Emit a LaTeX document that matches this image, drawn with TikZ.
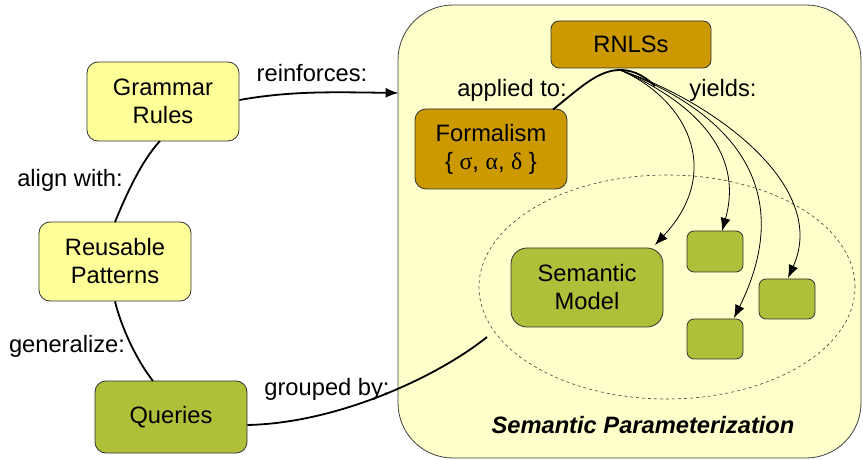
\documentclass[tikz,border=0pt]{standalone}
\usepackage{fontspec}
\setmainfont{Liberation Sans}
\newfontfamily\grk{Liberation Serif}
\usetikzlibrary{arrows.meta,shapes.geometric}
\definecolor{lyellow}{HTML}{FFFF99}
\definecolor{cont}{HTML}{FFFFCC}
\definecolor{gold}{HTML}{CC9900}
\definecolor{olive}{HTML}{B0BF3A}
\tikzset{
  box/.style={draw=black!80, line width=0.8bp, rounded corners=11bp, align=center, inner sep=0pt,
    font=\fontsize{23.7bp}{28bp}\selectfont},
  ybox/.style={box, fill=lyellow},
  gbox/.style={box, fill=gold},
  obox/.style={box, fill=olive},
  lbl/.style={anchor=base, inner sep=0pt, font=\fontsize{23.7bp}{28bp}\selectfont},
  thick link/.style={line width=1.8bp},
  yarrow/.style={line width=0.8bp, -{Latex[length=13bp,width=10bp]}},
}
\begin{document}
\begin{tikzpicture}[x=1bp,y=-1bp]
\useasboundingbox (0,0) rectangle (863,460);
% container
\node[draw=black!75, line width=0.8bp, fill=cont, rounded corners=55bp, minimum width=463bp, minimum height=453bp, inner sep=0pt] (cont) at (629.5,231.5) {};
% dashed ellipse
\node[ellipse, draw=black!75, dashed, line width=0.6bp, minimum width=376bp, minimum height=224bp, inner sep=0pt] (ell) at (667,287) {};
% nodes
\node[ybox, minimum width=152bp, minimum height=79bp] (gr) at (163,101.5) {Grammar\\Rules};
\node[ybox, minimum width=152bp, minimum height=79bp] (rp) at (115,261.5) {Reusable\\Patterns};
\node[obox, minimum width=152bp, minimum height=72bp] (qu) at (171,417) {Queries};
\node[gbox, minimum width=160bp, minimum height=47bp, rounded corners=8bp] (rn) at (631,44.5) {RNLSs};
\node[gbox, minimum width=152bp, minimum height=80bp] (fo) at (491,149) {Formalism\\\{ {\grk σ}, {\grk α}, {\grk δ} \}};
\node[obox, minimum width=152bp, minimum height=79bp, rounded corners=16bp] (sm) at (587,287.5) {Semantic\\Model};
\node[obox, minimum width=56bp, minimum height=41bp, rounded corners=7bp] (b1) at (715,251.5) {};
\node[obox, minimum width=56bp, minimum height=40bp, rounded corners=7bp] (b2) at (787,299) {};
\node[obox, minimum width=56bp, minimum height=40bp, rounded corners=7bp] (b3) at (715,339) {};
% connection points
\coordinate (top) at (620,70);
\coordinate (cl) at (398.6,93);
\coordinate (ep) at (487,337);
% left links
\draw[thick link, -{Latex[length=13bp,width=10bp]}] (gr.east |- 0,100) .. controls (290,91) and (330,92) .. (cl);
\draw[thick link] (160,141) .. controls (142,160) and (126,195) .. (rp.north |- 0,222) ;
\draw[thick link] (rp.south) .. controls (122,330) and (138,362) .. (153,381);
\draw[thick link] (qu.east |- 0,425) .. controls (340,423) and (440,375) .. (ep);
% applied to
\draw[thick link] (553,109.5) .. controls (580,88) and (598,70) .. (top) .. controls (636,70) and (646,78) .. (655,86);
% yields
\draw[yarrow] (top) .. controls (685,98) and (725,170) .. (655,245);
\draw[yarrow] (top) .. controls (690,100) and (745,150) .. (722,231);
\draw[yarrow] (top) .. controls (700,100) and (808,168) .. (734,318);
\draw[yarrow] (top) .. controls (710,100) and (830,185) .. (788,278);
% labels
\node[lbl] (l1) at (312,82) {reinforces:};
\node[lbl] (l2) at (512,97) {applied to:};
\node[lbl] (l3) at (723,97) {yields:};
\node[lbl] (l4) at (70,187) {align with:};
\node[lbl] (l5) at (67,353) {generalize:};
\node[lbl] (l6) at (327,395) {grouped by:};
\node[lbl, font=\fontsize{23.7bp}{28bp}\selectfont\bfseries\itshape] (l7) at (643,433) {Semantic Parameterization};
\end{tikzpicture}
\end{document}
